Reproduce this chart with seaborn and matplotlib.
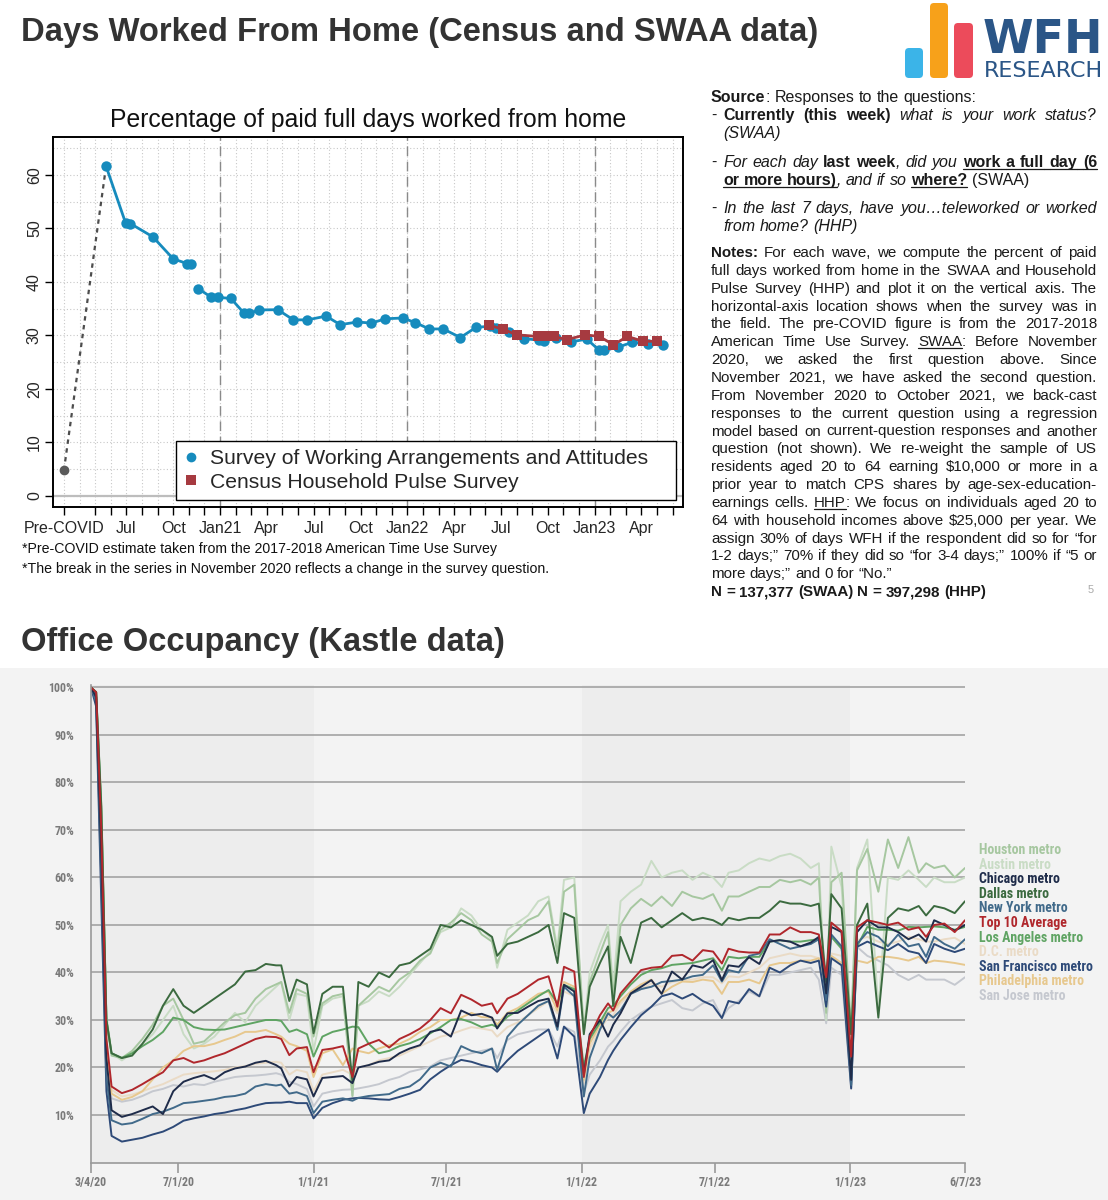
import numpy as np
import pandas as pd
import matplotlib
matplotlib.use('Agg')
import matplotlib.pyplot as plt
import seaborn as sns
from matplotlib.lines import Line2D
from matplotlib.patches import Rectangle, FancyBboxPatch
from matplotlib import font_manager

# ---------------- top chart data (x = months since Jan 2020) ----------------
precovid_month = 2
precovid_value = 4.8
swaa_month_a = [4.7, 5.95, 6.25, 7.7, 9.0, 9.9, 10.15]
swaa_value_a = [61.6, 51.0, 50.9, 48.4, 44.3, 43.4, 43.3]
swaa_month_b = [10.6, 11.45, 11.9, 12.7, 13.55, 13.85, 14.5, 15.7, 16.7, 17.6, 18.8, 19.7,
                20.8, 21.7, 22.6, 23.7, 24.5, 25.4, 26.3, 27.4, 28.4, 29.3, 29.7, 30.5,
                31.5, 32.45, 32.75, 33.5, 34.5, 35.5, 36.3, 36.6, 37.5, 38.4, 39.4, 40.4]
swaa_value_b = [38.75, 37.1, 37.1, 36.9, 34.1, 34.1, 34.75, 34.8, 32.9, 32.9, 33.6, 32.0,
                32.5, 32.3, 33.1, 33.25, 32.4, 31.2, 31.2, 29.6, 31.5, 31.7, 31.4, 30.6,
                29.4, 29.1, 29.0, 29.6, 28.8, 29.3, 27.2, 27.2, 27.8, 28.7, 28.4, 28.2]
hhp_month = [29.2, 30.1, 31.0, 32.4, 32.9, 33.4, 34.2, 35.4, 36.3, 37.2, 38.1, 39.1, 40.0]
hhp_value = [31.9, 31.2, 30.1, 29.8, 29.8, 29.8, 29.2, 30.1, 29.8, 28.25, 29.8, 28.9, 28.9]

month_ticks = [2] + list(range(4, 42))
month_labels = {2: 'Pre-COVID', 6: 'Jul', 9: 'Oct', 12: 'Jan21', 15: 'Apr', 18: 'Jul', 21: 'Oct',
                24: 'Jan22', 27: 'Apr', 30: 'Jul', 33: 'Oct', 36: 'Jan23', 39: 'Apr'}
series_breaks = [12, 24, 36]

# ---------------- bottom chart data (Kastle occupancy, %) ----------------
kastle_dates = [
    '2020-03-04', '2020-03-11', '2020-03-18', '2020-03-25', '2020-04-01', '2020-04-15', '2020-04-29', '2020-05-13', '2020-05-27', '2020-06-10',
    '2020-06-24', '2020-07-08', '2020-07-22', '2020-08-05', '2020-08-19', '2020-09-02', '2020-09-16', '2020-09-30', '2020-10-14', '2020-10-28',
    '2020-11-11', '2020-11-18', '2020-11-29', '2020-12-09', '2020-12-23', '2021-01-01', '2021-01-13', '2021-01-27', '2021-02-10', '2021-02-23',
    '2021-03-03', '2021-03-17', '2021-03-31', '2021-04-14', '2021-04-28', '2021-05-12', '2021-05-26', '2021-06-09', '2021-06-23', '2021-07-07',
    '2021-07-21', '2021-08-04', '2021-08-18', '2021-09-01', '2021-09-08', '2021-09-22', '2021-10-06', '2021-10-20', '2021-11-03', '2021-11-17',
    '2021-11-29', '2021-12-08', '2021-12-22', '2022-01-04', '2022-01-12', '2022-01-26', '2022-02-06', '2022-02-13', '2022-02-23', '2022-03-09',
    '2022-03-23', '2022-04-06', '2022-04-20', '2022-05-04', '2022-05-18', '2022-06-01', '2022-06-15', '2022-06-29', '2022-07-11', '2022-07-20',
    '2022-08-03', '2022-08-17', '2022-08-31', '2022-09-14', '2022-09-28', '2022-10-12', '2022-10-26', '2022-11-09', '2022-11-20', '2022-11-30',
    '2022-12-07', '2022-12-21', '2023-01-03', '2023-01-11', '2023-01-25', '2023-02-09', '2023-02-22', '2023-03-08', '2023-03-22', '2023-04-05',
    '2023-04-15', '2023-04-26', '2023-05-10', '2023-05-24', '2023-06-07']

houston = [100, 99, 75, 30, 22.5, 22, 23.5, 26, 29, 33,
           34.5, 30, 25, 25.5, 27.5, 29.5, 31, 31.5, 34.5, 36.5,
           37.5, 38, 31.5, 36.5, 35.5, 26.5, 33.5, 35, 35.5, 14,
           33, 35, 37, 36, 38.5, 40, 42.5, 44, 49, 50.5,
           52.5, 51, 48, 46.5, 42, 47, 49, 51, 52, 55,
           44, 57, 58.5, 27.5, 38, 44, 48.5, 35, 50, 53.5,
           55.5, 54, 56, 54, 57, 56, 55.5, 56.5, 53, 56,
           56, 57, 58, 58, 59.5, 59, 59.5, 58.5, 60, 31.5,
           59, 61, 28, 61.5, 66, 57, 68, 62, 68.5, 61,
           63, 62, 62.5, 60, 62]
austin = [100, 99, 76, 31, 23, 21.5, 23, 25, 27, 30,
          33, 27, 24, 25, 26.5, 29, 31.5, 29.5, 33, 35,
          37, 38, 30, 35.5, 35, 23.5, 33, 34.5, 35, 14,
          33, 34, 36, 35, 37, 39.5, 42, 44.5, 48.5, 49.5,
          53.5, 52, 49, 47, 41, 49, 50.5, 52, 55, 56,
          45, 59.5, 60, 28, 40, 46, 50, 37, 55, 57,
          58.5, 63.5, 60, 61, 61.5, 59.5, 61, 60, 58, 61,
          61.5, 63, 64, 63.5, 64.5, 65, 64, 62, 63, 30,
          66.5, 58, 26, 62, 68, 32, 60, 59.5, 61.5, 59.5,
          58, 60, 59, 59, 60]
chicago = [100, 98, 65, 22, 11, 9.6, 10.2, 11, 11.8, 10.2,
           15, 17, 17.8, 18.4, 17.5, 19, 19.8, 20.2, 21, 21.4,
           20.5, 19.8, 16, 18, 17.5, 13.9, 17.8, 18, 18.2, 16.7,
           20, 20.5, 21.2, 21.5, 23, 24, 24.7, 27.5, 28, 26.5,
           32, 31, 31.3, 30.5, 28.2, 31.4, 31.5, 32.8, 34, 34.5,
           28.6, 37.4, 36, 18.5, 27, 30, 26.5, 29, 31.4, 35.6,
           37, 38.4, 35.5, 40.2, 38.5, 41.5, 41, 42.6, 38.4, 41.5,
           41.2, 43.2, 41.8, 46.5, 46.8, 46.5, 45.5, 46.3, 47.5, 35.6,
           49.6, 48.5, 17.4, 48.5, 51, 49.5, 49.5, 48.5, 47, 48,
           46.5, 51, 50, 48.8, 50]
dallas = [100, 99, 75, 30, 23, 22, 22.5, 25, 28, 33,
          36.5, 33, 31.5, 33, 34.5, 36, 37.5, 40.2, 40.5, 41.8,
          41.5, 41.5, 34, 38.5, 37.5, 27.2, 35.5, 37, 37, 17,
          38, 37, 40, 39, 41.5, 42, 43.5, 45, 50, 49.5,
          51, 50, 49, 47.5, 43.5, 46, 46.5, 47.5, 48.5, 50,
          42, 52.5, 51.5, 27, 37, 42, 45.5, 33, 47.5, 42,
          50.5, 51.5, 49.5, 51, 52.5, 51, 51.5, 51, 50, 51.5,
          51, 51.5, 51.5, 53, 55, 54.5, 54.5, 54, 54.5, 38,
          56.5, 53.5, 27, 50, 54.5, 30.5, 51.5, 53.5, 53, 54,
          52, 54, 53.5, 52.5, 55]
new_york = [100, 97, 60, 18, 8.9, 8, 8.3, 9.2, 10.2, 10.7,
            11.5, 12.5, 12.7, 13, 13.3, 13.8, 14, 14.5, 16, 16.5,
            16.2, 16.4, 14.5, 14.8, 14, 10.4, 12.8, 13.2, 13.5, 13,
            13.6, 14, 14.2, 14.4, 15.5, 16, 17.5, 20, 21, 20.2,
            24.5, 23.5, 23, 24, 19.5, 26.5, 29, 31, 33, 34,
            27.9, 37, 35, 13.9, 22, 28, 31.4, 30.5, 32, 35.5,
            36.5, 37, 38, 38.2, 38.5, 39.2, 39.5, 41.5, 38.1, 40.5,
            40, 43.5, 44, 47, 46, 45, 45.5, 46, 47, 34.2,
            48, 45.5, 16.3, 46, 48.5, 47.5, 45.5, 48, 45.5, 46,
            43.3, 47.5, 46, 45, 47]
top10 = [100, 99, 70, 26, 16, 14.6, 15.3, 16.5, 17.8, 19,
         21.5, 22, 21, 21.5, 22.3, 23, 24, 25, 26, 26.5,
         26.4, 26, 22.6, 24, 24.3, 19, 23.7, 24, 24.5, 18,
         24, 25, 25.8, 24.2, 26, 27, 28.2, 30, 32.5, 31.4,
         35.3, 34.3, 33, 33.5, 31.4, 34.5, 35.5, 37, 38.5, 39.2,
         32.8, 41.2, 40.2, 18, 26.5, 31, 33.5, 32, 35.6, 38.1,
         40.5, 41, 41.2, 43.5, 43.7, 42.5, 44.7, 44.4, 41.9, 45,
         44.4, 44.2, 44.2, 48, 48, 49.5, 48.5, 48.5, 48, 39,
         50.5, 48.7, 22.3, 49.5, 51, 50.5, 50, 50.5, 49, 49.5,
         47.5, 50, 50.3, 48.5, 51]
los_angeles = [100, 99, 74, 30, 23, 22, 23, 24.5, 25.8, 27.5,
               30.5, 30, 28.5, 28, 27.9, 28, 28.5, 29, 29.5, 30,
               30, 29.8, 27.5, 28, 27, 22.3, 26.5, 27.5, 28, 28.6,
               28.5, 25, 23, 23.5, 24.5, 25.1, 26, 27.2, 28.5, 30,
               30.2, 29.5, 28.5, 29, 28.5, 30.7, 32, 33.5, 35, 36.3,
               33.5, 37.4, 36.5, 20.2, 26, 29.5, 32.5, 33, 35, 37.5,
               39.5, 40.5, 40.9, 41.6, 41.8, 42, 42.5, 43, 40.5, 43.3,
               43, 43.3, 43.3, 46.5, 46.8, 46.5, 46.5, 46.8, 47, 39.5,
               47.5, 45, 27, 45.5, 49.6, 49, 49, 48.8, 49.6, 49.5,
               49.6, 49.7, 49.5, 49, 49.6]
dc = [100, 98, 68, 24, 15.3, 13.9, 14.3, 15, 15.8, 16.5,
      17.5, 18.5, 18.8, 19, 19.2, 19.5, 20, 20.3, 20.8, 21,
      21.2, 21, 18.5, 19.5, 19, 15, 18.5, 19, 19.5, 18.5,
      20, 20.5, 21.5, 22, 22.5, 23.5, 24.5, 25.5, 26.5, 27,
      27.8, 28.5, 28.2, 27.8, 26.5, 28.5, 29.5, 31, 32.5, 34,
      31.4, 36, 35, 16.7, 24, 28, 30.5, 31, 33.5, 35.5,
      36.5, 37.7, 37, 38, 38.4, 38.5, 39, 39, 37.7, 39.2,
      39, 40, 41, 43, 43.5, 44, 43.5, 43.5, 43, 37.7,
      44, 43.5, 21, 46.8, 47.5, 46.5, 46, 46.5, 47.5, 47,
      46.5, 46.5, 47, 47.3, 46]
san_francisco = [100, 96, 55, 15, 5.6, 4.4, 4.8, 5.2, 5.9, 6.5,
                 7.5, 8.8, 9.3, 9.7, 10.2, 10.5, 11, 11.4, 12, 12.5,
                 12.6, 12.6, 12.8, 12.5, 12.5, 9.3, 11.5, 12.5, 13.2, 13.5,
                 13.6, 13.5, 13.3, 13.2, 13.8, 14.5, 15.3, 17.5, 19.1, 20.5,
                 21.6, 21.2, 20.5, 20, 19.1, 21.5, 23.5, 25, 26.5, 28,
                 21.9, 28.6, 26.5, 10.4, 14.5, 18, 21.6, 23.5, 25.8, 28.5,
                 31, 32.8, 35, 35.6, 34.5, 35.5, 34, 33, 30.4, 34,
                 33.5, 36.5, 35, 41, 40, 41.5, 42.5, 42, 42.5, 32.8,
                 43, 41.5, 15.6, 45.4, 46.5, 45.5, 44.7, 46, 44.5, 44,
                 42, 46, 45, 44.3, 45]
philadelphia = [100, 98, 68, 24, 14.5, 13.2, 13.8, 15, 17.5, 20,
                21.5, 23.5, 24.5, 24.5, 25, 25.8, 26.5, 27.5, 27.5, 27.9,
                27, 26.5, 25, 24.5, 23.5, 18, 23, 23.8, 20.5, 24,
                23.5, 23, 24, 24.7, 25, 26, 27.5, 28.5, 30, 30,
                30.5, 31.5, 30.6, 30.5, 29, 31.5, 32.5, 34, 35.5, 36,
                32, 38, 37, 17.4, 25, 29, 31.5, 32, 34, 36,
                37.5, 38.5, 35.5, 37, 38.1, 38, 38.5, 38.2, 35.5, 38,
                38, 38.5, 37.7, 41.5, 42, 42, 42.5, 42.5, 43, 37,
                43.5, 42, 22.3, 42.5, 42, 43.3, 43.3, 43, 42.5, 43.3,
                42, 42.5, 42.3, 42, 41.6]
san_jose = [100, 97, 64, 21, 13.5, 12.8, 13.2, 14, 15, 15.5,
            16.3, 16, 16.5, 16.3, 17, 17.5, 18, 18.2, 18.3, 18.5,
            18.8, 18.5, 17, 16.5, 15.5, 11.8, 14.5, 15, 15.3, 15.4,
            15.6, 16, 16.5, 17.4, 18, 19.1, 19.6, 20.2, 21.5, 22,
            22.5, 23, 23.5, 24, 22, 25.8, 27, 27.5, 28, 28,
            24.4, 28.6, 27.5, 14.6, 18.5, 21.5, 24.4, 25.5, 27.5, 30,
            31.5, 32.8, 33.5, 34.2, 32.5, 32, 33.5, 34.2, 30.5, 32.5,
            34, 36, 34.9, 39.5, 39.5, 40, 40.5, 41, 38.5, 29.3,
            41, 39.5, 15.5, 45.4, 43.5, 42.5, 41.5, 39.5, 38.4, 39.5,
            38.5, 38.5, 38.5, 37.4, 39]

metro_series = {
    'Houston metro': houston, 'Austin metro': austin, 'Chicago metro': chicago,
    'Dallas metro': dallas, 'New York metro': new_york, 'Top 10 Average': top10,
    'Los Angeles metro': los_angeles, 'D.C. metro': dc, 'San Francisco metro': san_francisco,
    'Philadelphia metro': philadelphia, 'San Jose metro': san_jose,
}
metro_colors = {
    'Houston metro': '#a6c7a0', 'Austin metro': '#c9dcc5', 'Chicago metro': '#1f2c4a',
    'Dallas metro': '#3b6a3f', 'New York metro': '#416a8a', 'Top 10 Average': '#b0272c',
    'Los Angeles metro': '#5fa463', 'D.C. metro': '#eadbc6', 'San Francisco metro': '#2e4a78',
    'Philadelphia metro': '#e7c88e', 'San Jose metro': '#c5c8cf',
}
draw_order = ['San Jose metro', 'D.C. metro', 'Austin metro', 'Houston metro', 'Philadelphia metro',
              'Los Angeles metro', 'San Francisco metro', 'New York metro', 'Dallas metro',
              'Chicago metro', 'Top 10 Average']
kastle_ticks = ['2020-03-04', '2020-07-01', '2021-01-01', '2021-07-01', '2022-01-01',
                '2022-07-01', '2023-01-01', '2023-06-07']
kastle_tick_labels = ['3/4/20', '7/1/20', '1/1/21', '7/1/21', '1/1/22', '7/1/22', '1/1/23', '6/7/23']

kastle = pd.concat([pd.DataFrame({'date': pd.to_datetime(kastle_dates), 'value': v, 'metro': k})
                    for k, v in metro_series.items()], ignore_index=True)

# ---------------- style ----------------
sns.set_style('white')
plt.rcParams['font.family'] = ['Liberation Sans', 'DejaVu Sans']
installed = {f.name for f in font_manager.fontManager.ttflist}
NARROW = next((f for f in ['Roboto Condensed', 'Liberation Sans Narrow', 'Open Sans Condensed']
               if f in installed), 'Liberation Sans')

W, H = 1108, 1200
fig = plt.figure(figsize=(W / 100, H / 100), dpi=100)
R = fig.canvas.get_renderer()


def box(l, t, r, b):
    return [l / W, 1 - b / H, (r - l) / W, (b - t) / H]


# overlay in pixel coordinates for slide texts
bg = fig.add_axes([0, 0, 1, 1], zorder=-1)
bg.set_xlim(0, W)
bg.set_ylim(H, 0)
bg.axis('off')
bg.add_patch(Rectangle((0, 668), W, H - 668, color='#f3f3f3', lw=0))


def fit_size(txt, target, **kw):
    t = bg.text(0, 0, txt, fontsize=10, **kw)
    w = t.get_window_extent(R).width
    t.remove()
    return 10 * target / w


bg.text(21, 41, 'Days Worked From Home (Census and SWAA data)', fontsize=23.6, fontweight='bold',
        color='#333333', va='baseline')
bg.text(21, 651, 'Office Occupancy (Kastle data)', fontsize=23.6, fontweight='bold',
        color='#333333', va='baseline')

# logo
for (x0, y0, x1, c) in [(905, 48, 923, '#3bb4e8'), (930, 3, 948, '#f7a11a'), (954, 23, 973, '#ec4b5b')]:
    bg.add_patch(FancyBboxPatch((x0, y0), x1 - x0, 78 - y0, boxstyle='round,pad=0,rounding_size=4',
                                color=c, lw=0))
bg.text(1103, 53, 'WFH', fontsize=33, fontweight='bold', color='#2b5687', ha='right',
        va='baseline', family='DejaVu Sans')
bg.text(1103, 77, 'RESEARCH', fontsize=16, color='#2b5687', ha='right', va='baseline',
        family='DejaVu Sans')

# ---------------- notes text (justified) ----------------
NOTE_C = '#1a1a1a'
HEAD_FS = 11.5
BODY_FS = 10.9


def seg_kw(st, fs):
    kw = dict(fontsize=fs, color=NOTE_C)
    if 'b' in st:
        kw['fontweight'] = 'bold'
    if 'i' in st:
        kw['fontstyle'] = 'italic'
    return kw


def tw(txt, st, fs):
    t = bg.text(0, 0, txt, **seg_kw(st, fs))
    w = t.get_window_extent(R).width
    t.remove()
    return w


def split_words(segs):
    words = []
    new_word = True
    for txt, st in segs:
        for i, p in enumerate(txt.split(' ')):
            if i > 0:
                new_word = True
            if p == '':
                continue
            if new_word or not words:
                words.append([(p, st)])
            else:
                words[-1].append((p, st))
            new_word = False
    return words


def note_line(segs, x0, yb, x1=None, fs=BODY_FS):
    words = split_words(segs)
    widths = [sum(tw(p, s, fs) for p, s in w) for w in words]
    space = tw('a b', '', fs) - tw('ab', '', fs)
    gap = space
    if x1 is not None and len(words) > 1:
        gap = max((x1 - x0 - sum(widths)) / (len(words) - 1), 0.6 * space)
    x = x0
    prev_u = False
    for w in words:
        if prev_u and 'u' in w[0][1]:
            bg.plot([x - gap, x], [yb + 2, yb + 2], color=NOTE_C, lw=0.9)
        for p, s in w:
            pw = tw(p, s, fs)
            bg.text(x, yb, p, va='baseline', ha='left', **seg_kw(s, fs))
            if 'u' in s:
                bg.plot([x, x + pw], [yb + 2, yb + 2], color=NOTE_C, lw=0.9)
            x += pw
        prev_u = 'u' in w[-1][1]
        x += gap


XL, XI, XR = 711, 723, 1097
note_line([('Source', 'b'), (': Responses to the questions:', '')], XL, 102, fs=HEAD_FS)
for yb in (120, 167, 213):
    bg.text(XL, yb, '-', va='baseline', fontsize=HEAD_FS, color=NOTE_C)
note_line([('Currently (this week)', 'b'), (' what is your work status?', 'i')], XI, 120, XR, fs=HEAD_FS)
note_line([('(SWAA)', 'i')], XI, 138, fs=HEAD_FS)
note_line([('For each day ', 'i'), ('last week', 'b'), (', did you ', 'i'), ('work a full day (6', 'bu')],
          XI, 167, XR, fs=HEAD_FS)
note_line([('or more hours)', 'bu'), (', and if so ', 'i'), ('where?', 'bu'), (' (SWAA)', '')], XI, 185,
          fs=HEAD_FS)
note_line([('In the last 7 days, have you\u2026teleworked or worked', 'i')], XI, 213, XR, fs=HEAD_FS)
note_line([('from home? (HHP)', 'i')], XI, 231, fs=HEAD_FS)

notes_body = [
    [('Notes:', 'b'), (' For each wave, we compute the percent of paid', '')],
    [('full days worked from home in the SWAA and Household', '')],
    [('Pulse Survey (HHP) and plot it on the vertical axis. The', '')],
    [('horizontal-axis location shows when the survey was in', '')],
    [('the field. The pre-COVID figure is from the 2017-2018', '')],
    [('American Time Use Survey. ', ''), ('SWAA', 'u'), (': Before November', '')],
    [('2020, we asked the first question above. Since', '')],
    [('November 2021, we have asked the second question.', '')],
    [('From November 2020 to October 2021, we back-cast', '')],
    [('responses to the current question using a regression', '')],
    [('model based on current-question responses and another', '')],
    [('question (not shown). We re-weight the sample of US', '')],
    [('residents aged 20 to 64 earning $10,000 or more in a', '')],
    [('prior year to match CPS shares by age-sex-education-', '')],
    [('earnings cells. ', ''), ('HHP', 'u'), (': We focus on individuals aged 20 to', '')],
    [('64 with household incomes above $25,000 per year. We', '')],
    [('assign 30% of days WFH if the respondent did so for \u201cfor', '')],
    [('1-2 days;\u201d 70% if they did so \u201cfor 3-4 days;\u201d 100% if \u201c5 or', '')],
    [('more days;\u201d and 0 for \u201cNo.\u201d', '')],
    [('N = 137,377 (SWAA) N = 397,298 (HHP)', 'b')],
]
for i, segs in enumerate(notes_body):
    yb = 257 + i * 17.85
    just = XR if i < len(notes_body) - 2 else None
    note_line(segs, XL, yb, just)
bg.text(1094, 593, '5', fontsize=8, color='#aaaaaa', ha='right', va='baseline')

# ---------------- top chart ----------------
SWAA_C = '#168bbd'
HHP_C = '#a63a40'
ax1 = fig.add_axes(box(53, 137, 683, 507))
ax1.set_xlim(1.3, 41.66)
ax1.set_ylim(-2.06, 67.06)
for m in range(2, 42):
    ax1.axvline(m, color='#c8c8c8', lw=0.8, ls=(0, (1, 2)), zorder=0)
for v in range(0, 70, 5):
    ax1.axhline(v, color='#c8c8c8', lw=0.8, ls=(0, (1, 2)), zorder=0)
ax1.axhline(0, color='#bdbdbd', lw=1.6, zorder=0)
for m in series_breaks:
    ax1.axvline(m, color='#8a8a8a', lw=1.0, ls=(0, (7, 4)), zorder=1)

sns.lineplot(x=[precovid_month, swaa_month_a[0]], y=[precovid_value, swaa_value_a[0]], ax=ax1,
             color='#4d4d4d', lw=1.6, ls=(0, (2, 2)), zorder=2)
ax1.plot([precovid_month], [precovid_value], 'o', color='#5a5a5a', ms=6, zorder=3)
sns.lineplot(x=swaa_month_a, y=swaa_value_a, ax=ax1, color=SWAA_C, lw=2, marker='o', ms=7.5,
             markeredgewidth=0, sort=False, zorder=3)
sns.lineplot(x=swaa_month_b, y=swaa_value_b, ax=ax1, color=SWAA_C, lw=2, marker='o', ms=7.5,
             markeredgewidth=0, sort=False, zorder=3)
sns.lineplot(x=hhp_month, y=hhp_value, ax=ax1, color=HHP_C, lw=2, marker='s', ms=6.8,
             markeredgewidth=0, sort=False, zorder=4)

ax1.set_xticks(month_ticks)
ax1.set_xticklabels([month_labels.get(m, '') for m in month_ticks])
ax1.set_yticks(range(0, 61, 10))
ax1.set_yticklabels([str(v) for v in range(0, 61, 10)], rotation=90, va='center')
ax1.tick_params(axis='both', direction='out', length=6, width=1, labelsize=11.5, color='black',
                bottom=True, left=True, pad=2)
ax1.tick_params(axis='x', pad=4)
ax1.set_xlabel('')
ax1.set_ylabel('')
for s in ax1.spines.values():
    s.set_color('black')
    s.set_linewidth(1.4)
ax1.set_title('Percentage of paid full days worked from home', fontsize=17.8, pad=7, color='#111111')

handles = [Line2D([], [], marker='o', ls='', color=SWAA_C, ms=7, markeredgewidth=0),
           Line2D([], [], marker='s', ls='', color=HHP_C, ms=6.5, markeredgewidth=0)]
leg = ax1.legend(handles, ['Survey of Working Arrangements and Attitudes', 'Census Household Pulse Survey'],
                 loc='lower left', bbox_to_anchor=(0.195, 0.019, 0.794, 0.17), mode='expand',
                 fontsize=15.2, frameon=True, fancybox=False, framealpha=1, edgecolor='black',
                 borderaxespad=0, handlelength=0.6, handletextpad=0.6, labelspacing=0.2,
                 borderpad=0.4)
leg.get_frame().set_linewidth(1.0)

bg.text(22, 553, '*Pre-COVID estimate taken from the 2017-2018 American Time Use Survey',
        fontsize=10.15, color='#111111', va='baseline')
bg.text(22, 573, '*The break in the series in November 2020 reflects a change in the survey question.',
        fontsize=10.15, color='#111111', va='baseline')

# ---------------- bottom chart ----------------
ax2 = fig.add_axes(box(91, 685.1, 965, 1162.5))
ax2.set_facecolor('none')
t0, t1 = pd.Timestamp('2020-03-04'), pd.Timestamp('2023-06-07')
ax2.axvspan(t0, pd.Timestamp('2021-01-01'), color='#ededed', lw=0, zorder=0)
ax2.axvspan(pd.Timestamp('2022-01-01'), pd.Timestamp('2023-01-01'), color='#ededed', lw=0, zorder=0)
for v in range(10, 101, 10):
    ax2.axhline(v, color='#a9a9a9', lw=1.3, zorder=1)

sns.lineplot(data=kastle, x='date', y='value', hue='metro', hue_order=draw_order,
             palette=metro_colors, legend=False, lw=1.4, estimator=None, ax=ax2, zorder=2)

ax2.set_xlim(t0, t1)
ax2.set_ylim(0, 100.5)
ax2.set_xticks(pd.to_datetime(kastle_ticks))
ax2.set_xticklabels(kastle_tick_labels)
ax2.set_yticks(range(10, 101, 10))
ax2.set_yticklabels([f'{v}%' for v in range(10, 101, 10)])
ax2.set_xlabel('')
ax2.set_ylabel('')
tick_fs = fit_size('100%', 26, fontweight='bold', family=NARROW)
ax2.tick_params(axis='x', direction='out', length=7, width=1.2, color='#9a9a9a', pad=3,
                labelsize=tick_fs, labelcolor='#7a7a7a', bottom=True)
ax2.tick_params(axis='y', length=0, pad=12, labelsize=tick_fs, labelcolor='#7a7a7a')
for lab in ax2.get_xticklabels() + ax2.get_yticklabels():
    lab.set_fontweight('bold')
    lab.set_family(NARROW)
for side in ('top', 'right'):
    ax2.spines[side].set_visible(False)
for side in ('left', 'bottom'):
    ax2.spines[side].set_color('#9a9a9a')
    ax2.spines[side].set_linewidth(1.2)

label_order = ['Houston metro', 'Austin metro', 'Chicago metro', 'Dallas metro', 'New York metro',
               'Top 10 Average', 'Los Angeles metro', 'D.C. metro', 'San Francisco metro',
               'Philadelphia metro', 'San Jose metro']
label_fs = fit_size('Houston metro', 82, fontweight='bold', family=NARROW)
for i, name in enumerate(label_order):
    bg.text(979, 850 + i * 14.6, name, color=metro_colors[name], fontsize=label_fs, fontweight='bold',
            family=NARROW, va='center')

fig.savefig('out.png', dpi=100)
